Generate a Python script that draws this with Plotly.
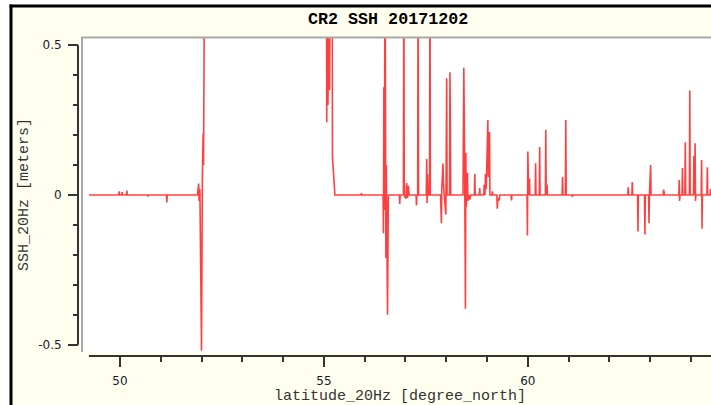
import plotly.graph_objects as go

# ---------------- data ----------------
title_text = "CR2 SSH 20171202"
x_title = "latitude_20Hz [degree_north]"
y_title = "SSH_20Hz [meters]"

lat = [49.24, 49.97, 49.98, 49.99, 50.04, 50.05, 50.06, 50.16, 50.17, 50.18,
       50.68, 50.69, 50.70, 51.14, 51.15, 51.16,
       51.90, 51.93, 51.94, 51.96, 52.00, 52.02, 52.04, 52.05, 52.08, None,
       55.06, 55.07, 55.08, 55.10, 55.11, 55.12, 55.14, 55.16, 55.20, 55.21, 55.27,
       55.91, 55.92, 55.93,
       56.45, 56.46, 56.47, 56.48, 56.50, 56.52, 56.53, 56.56, 56.58,
       56.85, 56.86, 56.87, 56.95, 56.96, 56.97,
       57.01, 57.03, 57.05, 57.07, 57.09,
       57.26, 57.27, 57.28, 57.30, 57.31, 57.32,
       57.51, 57.52, 57.53, 57.54, 57.56, 57.59, 57.60, 57.61,
       57.86, 57.88, 57.89, 57.92, 57.93, 57.95, 57.99, 58.01, 58.02, 58.08, 58.09, 58.10, 58.11,
       58.41, 58.43, 58.44, 58.45, 58.47, 58.48, 58.49, 58.50, 58.52, 58.53, 58.55,
       58.58, 58.60, 58.69, 58.70, 58.71, 58.81, 58.82, 58.83,
       58.92, 58.93, 58.95, 58.96, 58.98, 59.02, 59.03, 59.06, 59.07, 59.12, 59.13, 59.14,
       59.24, 59.25, 59.27, 59.30, 59.31, 59.59, 59.60, 59.61,
       59.98, 59.99, 60.00, 60.02, 60.04, 60.05,
       60.18, 60.19, 60.20, 60.28, 60.29, 60.30,
       60.43, 60.44, 60.45, 60.47, 60.48,
       60.84, 60.85, 60.86, 60.92, 60.93, 60.94, 61.08, 61.09, 61.10,
       62.45, 62.46, 62.47, 62.55, 62.56, 62.57, 62.69, 62.70, 62.71,
       62.86, 62.87, 62.88, 62.96, 62.97, 62.98, 63.01, 63.02,
       63.32, 63.33, 63.35, 63.70, 63.71, 63.72, 63.73,
       63.78, 63.79, 63.80, 63.85, 63.86, 63.87, 63.96, 63.97, 63.98,
       64.06, 64.07, 64.08, 64.10, 64.11, 64.12,
       64.25, 64.26, 64.27, 64.28, 64.39, 64.40, 64.41,
       64.47, 64.48, 64.49, 64.60]

ssh = [0.0, 0.0, 0.012, 0.0, 0.0, 0.01, 0.0, 0.0, 0.015, 0.0,
       0.0, -0.005, 0.0, 0.0, -0.025, 0.0,
       0.0, 0.038, -0.02, 0.02, -0.52, 0.05, 0.205, 0.1, 1.0, None,
       1.0, 0.243, 0.9, 0.30, 0.45, 0.9, 0.35, 1.0, 1.0, 0.128, 0.0,
       0.0, 0.006, 0.0,
       0.0, -0.128, 0.36, -0.05, 0.8, -0.21, 0.1, -0.40, 0.0,
       0.0, -0.03, 0.0, 0.0, 0.8, 0.0,
       -0.012, 0.04, -0.01, 0.03, 0.0,
       0.0, -0.035, 0.0, 0.0, 0.8, 0.0,
       0.0, 0.12, -0.027, 0.07, 0.0, 0.0, 0.8, 0.0,
       0.0, -0.094, 0.02, 0.105, 0.04, 0.0, -0.065, 0.39, 0.0, 0.0, 0.41, 0.26, 0.0,
       0.0, 0.425, 0.28, 0.12, -0.38, 0.14, -0.04, 0.01, 0.073, -0.02, 0.0,
       -0.015, 0.0, 0.0, 0.07, 0.0, 0.0, 0.023, 0.0,
       0.0, 0.035, 0.0, 0.07, 0.02, 0.25, 0.06, 0.21, 0.0, 0.0, 0.012, 0.0,
       0.0, -0.046, -0.01, -0.018, 0.0, 0.0, -0.018, 0.0,
       0.0, -0.135, 0.145, 0.0, 0.055, 0.0,
       0.0, 0.106, 0.0, 0.0, 0.16, 0.0,
       0.0, 0.218, 0.0, 0.035, 0.0,
       0.0, 0.06, 0.0, 0.0, 0.25, 0.0, 0.0, -0.006, 0.0,
       0.0, 0.026, 0.0, 0.0, 0.043, 0.0, 0.0, -0.122, 0.0,
       0.0, -0.132, 0.0, 0.0, -0.094, 0.0, 0.1, 0.0,
       0.0, 0.018, 0.0, 0.0, 0.05, -0.02, 0.0,
       0.0, 0.09, 0.0, 0.0, 0.176, 0.0, 0.0, 0.349, 0.0,
       0.0, 0.13, 0.0, 0.173, -0.02, 0.0,
       0.0, 0.117, -0.113, 0.0, 0.0, 0.093, 0.0,
       0.0, 0.02, 0.0, 0.0]

x_range = [49.07, 64.49]
y_range = [-0.524, 0.524]
x_major = [50, 55, 60]
y_major = [-0.5, 0, 0.5]
y_major_text = ["-0.5", "0", "0.5"]

# ---------------- layout helpers ----------------
W, H = 711, 405
def px(x):
    return x / W
def py(y):
    return 1 - y / H

cream = "#FFFFF0"
axcol = "#333333"
mono = "Liberation Mono"

fig = go.Figure()
fig.add_trace(go.Scatter(
    x=lat, y=ssh, mode="lines",
    line=dict(color="rgba(255,0,0,0.75)", width=1.6, simplify=False),
    connectgaps=False, hoverinfo="skip", showlegend=False,
    xaxis="x", yaxis="y"))
# empty trace so the offset tick axes are instantiated
fig.add_trace(go.Scatter(x=[], y=[], xaxis="x2", yaxis="y2", showlegend=False))

tickfont = dict(family="DejaVu Sans", size=12, color="#1a1a2a")

fig.update_layout(
    width=W, height=H, autosize=False,
    margin=dict(l=0, r=0, t=0, b=0, pad=0),
    paper_bgcolor=cream, plot_bgcolor="white",
    xaxis=dict(domain=[px(82), 1], range=x_range, visible=False, fixedrange=True),
    yaxis=dict(domain=[py(352), py(38)], range=y_range, visible=False, fixedrange=True),
    xaxis2=dict(overlaying="x", anchor="free", position=py(356), range=x_range,
                showgrid=False, zeroline=False, showline=False,
                ticks="outside", ticklen=10, tickwidth=1.5, tickcolor=axcol,
                tickvals=x_major, ticktext=[str(v) for v in x_major],
                minor=dict(dtick=1, tick0=50, ticks="outside", ticklen=5,
                           tickwidth=1.5, tickcolor=axcol, showgrid=False),
                tickfont=tickfont, ticklabelstandoff=4),
    yaxis2=dict(overlaying="y", anchor="free", position=px(78), side="left",
                range=y_range, showgrid=False, zeroline=False, showline=False,
                ticks="outside", ticklen=10, tickwidth=1.5, tickcolor=axcol,
                tickvals=y_major, ticktext=y_major_text,
                minor=dict(dtick=0.1, tick0=0, ticks="outside", ticklen=5,
                           tickwidth=1.5, tickcolor=axcol, showgrid=False),
                tickfont=tickfont, ticklabelstandoff=4),
    shapes=[
        # white margins outside the black frame
        dict(type="rect", xref="paper", yref="paper",
             x0=0, x1=px(10), y0=0, y1=1, fillcolor="white", line=dict(width=0)),
        dict(type="rect", xref="paper", yref="paper",
             x0=0, x1=1, y0=py(5), y1=1, fillcolor="white", line=dict(width=0)),
        # black frame (left, top)
        dict(type="line", xref="paper", yref="paper",
             x0=px(11), x1=px(11), y0=0, y1=py(4.5),
             line=dict(color="black", width=3)),
        dict(type="line", xref="paper", yref="paper",
             x0=px(9.5), x1=1, y0=py(6), y1=py(6),
             line=dict(color="black", width=3)),
        # plot area inset border (left, top)
        dict(type="line", xref="paper", yref="paper",
             x0=px(82), x1=px(82), y0=py(352), y1=py(37),
             line=dict(color="#a8a8a8", width=2)),
        dict(type="line", xref="paper", yref="paper",
             x0=px(81), x1=1, y0=py(37.5), y1=py(37.5),
             line=dict(color="#a8a8a8", width=2)),
        # axis lines
        dict(type="line", xref="paper", yref="y",
             x0=px(78), x1=px(78), y0=y_major[0], y1=y_major[-1],
             line=dict(color=axcol, width=2)),
        dict(type="line", xref="x", yref="paper",
             x0=49.24, x1=x_range[1], y0=py(356), y1=py(356),
             line=dict(color=axcol, width=2)),
    ],
    annotations=[
        dict(text=title_text, xref="paper", yref="paper", x=px(388), y=py(19),
             xanchor="center", yanchor="middle", showarrow=False,
             font=dict(family=mono, size=16.7, color="black", weight="bold")),
        dict(text=x_title, xref="paper", yref="paper", x=px(400), y=py(396),
             xanchor="center", yanchor="middle", showarrow=False,
             font=dict(family=mono, size=15, color="#333333")),
        dict(text=y_title, xref="paper", yref="paper", x=px(25), y=py(195),
             xanchor="center", yanchor="middle", showarrow=False, textangle=-90,
             font=dict(family=mono, size=15, color="#333333")),
    ],
)

fig.write_html("out.html")
